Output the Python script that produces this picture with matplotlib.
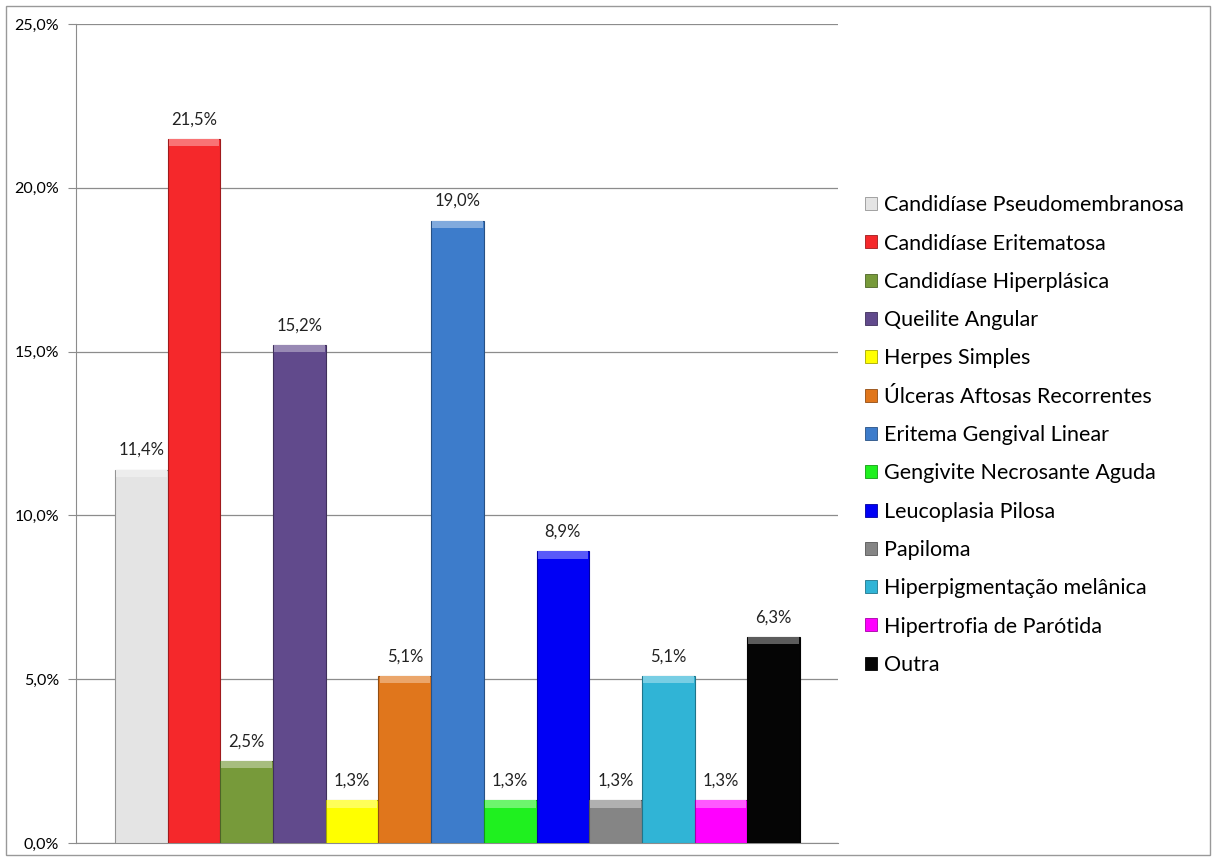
import matplotlib.pyplot as plt
from matplotlib.patches import Rectangle
from matplotlib.colors import to_rgb

categories = [
    "Candidíase Pseudomembranosa",
    "Candidíase Eritematosa",
    "Candidíase Hiperplásica",
    "Queilite Angular",
    "Herpes Simples",
    "Úlceras Aftosas Recorrentes",
    "Eritema Gengival Linear",
    "Gengivite Necrosante Aguda",
    "Leucoplasia Pilosa",
    "Papiloma",
    "Hiperpigmentação melânica",
    "Hipertrofia de Parótida",
    "Outra",
]
values = [11.4, 21.5, 2.5, 15.2, 1.3, 5.1, 19.0, 1.3, 8.9, 1.3, 5.1, 1.3, 6.3]
colors = [
    "#E4E4E4", "#F5282B", "#779A3A", "#614A8C", "#FFFF00", "#E0761C", "#3D7CCB",
    "#1FF01F", "#0000F5", "#858585", "#30B4D6", "#FF00FF", "#050505",
]
yticks = [0, 5, 10, 15, 20, 25]
ytick_labels = ["0,0%", "5,0%", "10,0%", "15,0%", "20,0%", "25,0%"]

plt.rcParams["font.family"] = ["Lato", "DejaVu Sans"]


def shade(c, f):
    r, g, b = to_rgb(c)
    if f > 0:
        return (r + (1 - r) * f, g + (1 - g) * f, b + (1 - b) * f)
    return (r * (1 + f), g * (1 + f), b * (1 + f))


fig = plt.figure(figsize=(12.12, 8.58), dpi=100)
ax = fig.add_axes([0.0627, 0.0175, 0.6287, 0.9545])

x = list(range(len(values)))
bars = ax.bar(x, values, width=1.0, color=colors,
              edgecolor=[shade(c, -0.35) for c in colors], linewidth=0.8, zorder=3)
# lighter bevel strip on top of each bar
ax.bar(x, [0.22] * len(values), bottom=[v - 0.22 for v in values], width=0.96,
       color=[shade(c, 0.35) for c in colors], linewidth=0, zorder=4)

for xi, v in zip(x, values):
    ax.text(xi, v + 0.35, f"{v:.1f}%".replace(".", ","), ha="center", va="bottom",
            fontsize=12, color="#222222", zorder=5)

ax.set_xlim(-1.24, 13.22)
ax.set_ylim(0, 25)
ax.set_yticks(yticks)
ax.set_yticklabels(ytick_labels, fontsize=11.5)
ax.set_xticks([])
ax.yaxis.grid(True, color="#8C8C8C", linewidth=0.9, zorder=0)
ax.tick_params(axis="y", length=6, color="#8C8C8C", pad=6)
for s in ["top", "right"]:
    ax.spines[s].set_visible(False)
ax.spines["left"].set_color("#8C8C8C")
ax.spines["bottom"].set_color("#8C8C8C")

handles = [Rectangle((0, 0), 1, 1, facecolor=c, edgecolor=shade(c, -0.35), linewidth=0.6)
           for c in colors]
fig.legend(handles, categories, loc="upper left", bbox_to_anchor=(0.698, 0.795),
           frameon=False, fontsize=15.5, handlelength=0.55, handleheight=0.55,
           handletextpad=0.3, labelspacing=0.85)

fig.add_artist(Rectangle((0.005, 0.003), 0.993, 0.99, transform=fig.transFigure,
                         fill=False, edgecolor="#999999", linewidth=1))

fig.savefig("out.png", dpi=100)
